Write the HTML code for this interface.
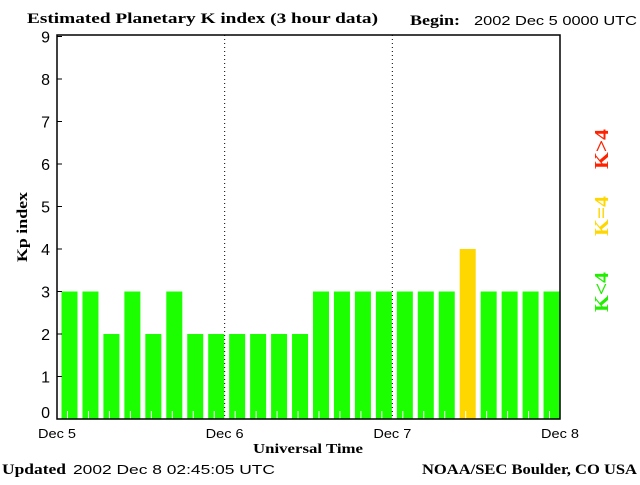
<!DOCTYPE html>
<html><head><meta charset="utf-8"><style>
body{margin:0;background:#fff}
svg text{font-family:"Liberation Sans",sans-serif}
.serif{font-family:"Liberation Serif",serif!important;font-weight:bold}
</style></head><body>
<svg id="c" width="640" height="480" viewBox="0 0 640 480">
<text class="serif" x="27" y="23" font-size="15" textLength="351" lengthAdjust="spacingAndGlyphs">Estimated Planetary K index (3 hour data)</text>
<text class="serif" x="410" y="25" font-size="15" textLength="50" lengthAdjust="spacingAndGlyphs">Begin:</text>
<text x="474" y="25" font-size="13" textLength="163" lengthAdjust="spacingAndGlyphs">2002 Dec 5 0000 UTC</text>
<g id="bars"></g>
<rect x="57" y="35" width="503" height="384" fill="none" stroke="#000" stroke-width="1.5"/>
<g id="axes"></g>
<text class="serif" x="308" y="453" font-size="14" text-anchor="middle" textLength="110" lengthAdjust="spacingAndGlyphs">Universal Time</text>
<text class="serif" transform="translate(27,227) rotate(-90)" font-size="15" text-anchor="middle" textLength="70" lengthAdjust="spacingAndGlyphs">Kp index</text>
<text class="serif" transform="translate(608,292) rotate(-90)" font-size="20" fill="#22ee00" text-anchor="middle" textLength="40" lengthAdjust="spacingAndGlyphs">K&lt;4</text>
<text class="serif" transform="translate(608,216) rotate(-90)" font-size="20" fill="#ffd700" text-anchor="middle" textLength="40" lengthAdjust="spacingAndGlyphs">K=4</text>
<text class="serif" transform="translate(608,149) rotate(-90)" font-size="20" fill="#ff2200" text-anchor="middle" textLength="40" lengthAdjust="spacingAndGlyphs">K&gt;4</text>
<text class="serif" x="2" y="474" font-size="15" textLength="64" lengthAdjust="spacingAndGlyphs">Updated</text>
<text x="73" y="474" font-size="13" textLength="202" lengthAdjust="spacingAndGlyphs">2002 Dec  8 02:45:05 UTC</text>
<text class="serif" x="422" y="474" font-size="15" textLength="215" lengthAdjust="spacingAndGlyphs">NOAA/SEC Boulder, CO USA</text>
</svg>
<script>
const kpValues=[3,3,2,3,2,3,2,2,2,2,2,2,3,3,3,3,3,3,3,4,3,3,3,3];
const yTicks=[0,1,2,3,4,5,6,7,8,9];
const dayLabels=["Dec 5","Dec 6","Dec 7","Dec 8"];
const NS="http://www.w3.org/2000/svg";
const x0=57,x1=560,y0=419;
const slot=(x1-x0)/kpValues.length;
function xs(i){return x0+i*slot;}
function ys(v){return y0-42.5*v;}
function mk(t,a,p){const e=document.createElementNS(NS,t);for(const k in a)e.setAttribute(k,a[k]);p.appendChild(e);return e;}
const bars=document.getElementById('bars'),axes=document.getElementById('axes');
kpValues.forEach((v,i)=>{
 const col=v<4?'#1cff00':(v==4?'#ffd700':'#ff2200');
 const r=mk('rect',{x:xs(i)+4.5,y:ys(v),width:16,height:y0-ys(v),fill:col},bars);
 
 
 const t=mk('line',{x1:xs(i)+slot/2,x2:xs(i)+slot/2,y1:y0-8,y2:y0,stroke:'#fff'},bars);
 
 
});
yTicks.forEach(v=>{
 const y=ys(v);
 const l=mk('line',{x1:x0,x2:x0+5,y1:y,y2:y,stroke:'#000'},axes);
 
 
 const t=mk('text',{x:50,y:Math.min(y+6,y0-1),'font-size':16,'text-anchor':'end'},axes);
 t.textContent=v;
 
 
});
dayLabels.forEach((d,i)=>{
 const x=x0+i*(x1-x0)/(dayLabels.length-1);
 if(i>0&&i<dayLabels.length-1){
  const l=mk('line',{x1:x,x2:x,y1:35,y2:y0,stroke:'#000','stroke-dasharray':'1,3'},axes);
  
  
 }
 const t=mk('text',{x:x,y:438,'font-size':13,'text-anchor':'middle',textLength:38,lengthAdjust:'spacingAndGlyphs'},axes);
 t.textContent=d;
 
 
});
</script>
</body></html>
